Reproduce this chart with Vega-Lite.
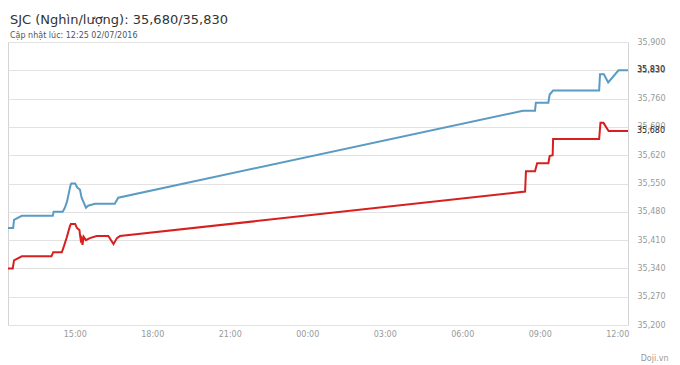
{
  "$schema": "https://vega.github.io/schema/vega-lite/v6.json",
  "width": 620,
  "height": 283,
  "autosize": {"type": "none"},
  "padding": {"left": 8, "top": 42, "right": 52, "bottom": 40},
  "background": "white",
  "config": {
    "font": "DejaVu Sans",
    "view": {"stroke": "#d4d4d4", "strokeWidth": 1}
  },
  "title": {
    "text": "SJC (Nghìn/lượng): 35,680/35,830",
    "subtitle": "Cập nhật lúc: 12:25 02/07/2016",
    "anchor": "start",
    "frame": "group",
    "font": "DejaVu Sans",
    "fontSize": 13,
    "fontWeight": "normal",
    "color": "#333333",
    "subtitleFont": "DejaVu Sans",
    "subtitleFontSize": 8,
    "subtitleColor": "#555555",
    "subtitlePadding": 5,
    "offset": -2,
    "dx": 2
  },
  "datasets": {
    "prices": [
      {"t": "2016/07/01 12:25", "v": 35440, "s": "Bán"},
      {"t": "2016/07/01 12:37", "v": 35440, "s": "Bán"},
      {"t": "2016/07/01 12:39", "v": 35460, "s": "Bán"},
      {"t": "2016/07/01 12:57", "v": 35470, "s": "Bán"},
      {"t": "2016/07/01 14:09", "v": 35470, "s": "Bán"},
      {"t": "2016/07/01 14:11", "v": 35480, "s": "Bán"},
      {"t": "2016/07/01 14:32", "v": 35480, "s": "Bán"},
      {"t": "2016/07/01 14:37", "v": 35490, "s": "Bán"},
      {"t": "2016/07/01 14:42", "v": 35505, "s": "Bán"},
      {"t": "2016/07/01 14:50", "v": 35545, "s": "Bán"},
      {"t": "2016/07/01 14:52", "v": 35550, "s": "Bán"},
      {"t": "2016/07/01 15:01", "v": 35550, "s": "Bán"},
      {"t": "2016/07/01 15:06", "v": 35540, "s": "Bán"},
      {"t": "2016/07/01 15:12", "v": 35535, "s": "Bán"},
      {"t": "2016/07/01 15:16", "v": 35515, "s": "Bán"},
      {"t": "2016/07/01 15:22", "v": 35500, "s": "Bán"},
      {"t": "2016/07/01 15:26", "v": 35490, "s": "Bán"},
      {"t": "2016/07/01 15:31", "v": 35495, "s": "Bán"},
      {"t": "2016/07/01 15:47", "v": 35500, "s": "Bán"},
      {"t": "2016/07/01 16:33", "v": 35500, "s": "Bán"},
      {"t": "2016/07/01 16:41", "v": 35515, "s": "Bán"},
      {"t": "2016/07/02 08:21", "v": 35730, "s": "Bán"},
      {"t": "2016/07/02 08:49", "v": 35730, "s": "Bán"},
      {"t": "2016/07/02 08:51", "v": 35750, "s": "Bán"},
      {"t": "2016/07/02 09:20", "v": 35750, "s": "Bán"},
      {"t": "2016/07/02 09:23", "v": 35770, "s": "Bán"},
      {"t": "2016/07/02 09:31", "v": 35780, "s": "Bán"},
      {"t": "2016/07/02 11:18", "v": 35780, "s": "Bán"},
      {"t": "2016/07/02 11:20", "v": 35820, "s": "Bán"},
      {"t": "2016/07/02 11:29", "v": 35820, "s": "Bán"},
      {"t": "2016/07/02 11:39", "v": 35800, "s": "Bán"},
      {"t": "2016/07/02 12:03", "v": 35830, "s": "Bán"},
      {"t": "2016/07/02 12:25", "v": 35830, "s": "Bán"},
      {"t": "2016/07/01 12:25", "v": 35340, "s": "Mua"},
      {"t": "2016/07/01 12:36", "v": 35340, "s": "Mua"},
      {"t": "2016/07/01 12:39", "v": 35360, "s": "Mua"},
      {"t": "2016/07/01 12:57", "v": 35370, "s": "Mua"},
      {"t": "2016/07/01 14:06", "v": 35370, "s": "Mua"},
      {"t": "2016/07/01 14:10", "v": 35380, "s": "Mua"},
      {"t": "2016/07/01 14:30", "v": 35380, "s": "Mua"},
      {"t": "2016/07/01 14:35", "v": 35395, "s": "Mua"},
      {"t": "2016/07/01 14:41", "v": 35415, "s": "Mua"},
      {"t": "2016/07/01 14:49", "v": 35445, "s": "Mua"},
      {"t": "2016/07/01 14:51", "v": 35450, "s": "Mua"},
      {"t": "2016/07/01 15:01", "v": 35450, "s": "Mua"},
      {"t": "2016/07/01 15:05", "v": 35440, "s": "Mua"},
      {"t": "2016/07/01 15:11", "v": 35435, "s": "Mua"},
      {"t": "2016/07/01 15:12", "v": 35425, "s": "Mua"},
      {"t": "2016/07/01 15:14", "v": 35410, "s": "Mua"},
      {"t": "2016/07/01 15:16", "v": 35415, "s": "Mua"},
      {"t": "2016/07/01 15:18", "v": 35398, "s": "Mua"},
      {"t": "2016/07/01 15:21", "v": 35418, "s": "Mua"},
      {"t": "2016/07/01 15:26", "v": 35410, "s": "Mua"},
      {"t": "2016/07/01 15:35", "v": 35415, "s": "Mua"},
      {"t": "2016/07/01 15:51", "v": 35420, "s": "Mua"},
      {"t": "2016/07/01 16:18", "v": 35420, "s": "Mua"},
      {"t": "2016/07/01 16:30", "v": 35400, "s": "Mua"},
      {"t": "2016/07/01 16:38", "v": 35415, "s": "Mua"},
      {"t": "2016/07/01 16:45", "v": 35420, "s": "Mua"},
      {"t": "2016/07/02 08:26", "v": 35530, "s": "Mua"},
      {"t": "2016/07/02 08:28", "v": 35580, "s": "Mua"},
      {"t": "2016/07/02 08:49", "v": 35580, "s": "Mua"},
      {"t": "2016/07/02 08:54", "v": 35600, "s": "Mua"},
      {"t": "2016/07/02 09:20", "v": 35600, "s": "Mua"},
      {"t": "2016/07/02 09:23", "v": 35618, "s": "Mua"},
      {"t": "2016/07/02 09:30", "v": 35620, "s": "Mua"},
      {"t": "2016/07/02 09:31", "v": 35660, "s": "Mua"},
      {"t": "2016/07/02 11:18", "v": 35660, "s": "Mua"},
      {"t": "2016/07/02 11:21", "v": 35700, "s": "Mua"},
      {"t": "2016/07/02 11:28", "v": 35700, "s": "Mua"},
      {"t": "2016/07/02 11:40", "v": 35680, "s": "Mua"},
      {"t": "2016/07/02 12:25", "v": 35680, "s": "Mua"}
    ],
    "last": [
      {"t": "2016/07/02 12:25", "v": 35830, "s": "Bán"},
      {"t": "2016/07/02 12:25", "v": 35680, "s": "Mua"}
    ]
  },
  "encoding": {
    "x": {
      "field": "t",
      "type": "temporal",
      "scale": {
        "domain": [
          {"year": 2016, "month": 7, "date": 1, "hours": 12, "minutes": 25},
          {"year": 2016, "month": 7, "date": 2, "hours": 12, "minutes": 25}
        ]
      },
      "axis": {
        "title": "Doji.vn",
        "titleX": 660,
        "titleY": 33,
        "titleAlign": "right",
        "titleAnchor": null,
        "titleBaseline": "middle",
        "titleFontSize": 8,
        "titleFontWeight": "normal",
        "titleColor": "#999999",
        "titleFont": "DejaVu Sans",
        "values": [
          {"year": 2016, "month": 7, "date": 1, "hours": 15},
          {"year": 2016, "month": 7, "date": 1, "hours": 18},
          {"year": 2016, "month": 7, "date": 1, "hours": 21},
          {"year": 2016, "month": 7, "date": 2, "hours": 0},
          {"year": 2016, "month": 7, "date": 2, "hours": 3},
          {"year": 2016, "month": 7, "date": 2, "hours": 6},
          {"year": 2016, "month": 7, "date": 2, "hours": 9},
          {"year": 2016, "month": 7, "date": 2, "hours": 12}
        ],
        "format": "%H:%M",
        "grid": false,
        "ticks": false,
        "domain": false,
        "labelFontSize": 8,
        "labelColor": "#999999",
        "labelPadding": 5,
        "labelFlush": false
      }
    },
    "y": {
      "field": "v",
      "type": "quantitative",
      "scale": {"domain": [35200, 35900], "nice": false, "zero": false},
      "axis": {
        "orient": "right",
        "title": null,
        "values": [35200, 35270, 35340, 35410, 35480, 35550, 35620, 35690, 35760, 35830, 35900],
        "format": ",d",
        "grid": true,
        "gridColor": "#e2e2e2",
        "gridWidth": 1,
        "ticks": false,
        "domain": false,
        "labelFontSize": 8,
        "labelColor": "#999999",
        "labelPadding": 9,
        "labelAlign": "left"
      }
    },
    "color": {
      "field": "s",
      "type": "nominal",
      "scale": {"domain": ["Bán", "Mua"], "range": ["#5a9bc4", "#d81f1f"]},
      "legend": null
    }
  },
  "layer": [
    {
      "data": {"name": "prices"},
      "mark": {"type": "line", "strokeWidth": 2, "interpolate": "linear"}
    },
    {
      "data": {"name": "last"},
      "mark": {"type": "text", "align": "left", "baseline": "middle", "dx": 9, "fontSize": 8, "color": "#222222"},
      "encoding": {
        "text": {"field": "v", "type": "quantitative", "format": ",d"},
        "color": {"value": "#222222"}
      }
    }
  ]
}
